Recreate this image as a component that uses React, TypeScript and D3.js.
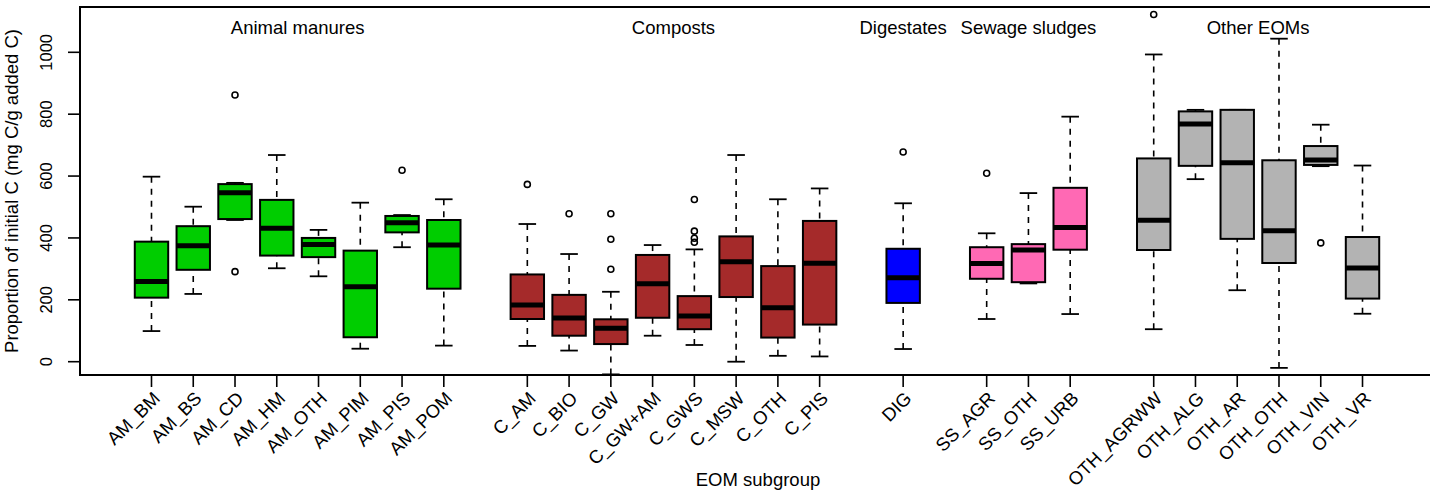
import React from "react";
import * as d3 from "d3";

// ---- Data ----
const groupNames = ["Animal manures", "Composts", "Digestates", "Sewage sludges", "Other EOMs"];
const groupColors = ["#00CD00", "#A52A2A", "#0000FF", "#FF69B4", "#B3B3B3"];

const categories = [
  "AM_BM", "AM_BS", "AM_CD", "AM_HM", "AM_OTH", "AM_PIM", "AM_PIS", "AM_POM",
  "C_AM", "C_BIO", "C_GW", "C_GW+AM", "C_GWS", "C_MSW", "C_OTH", "C_PIS",
  "DIG",
  "SS_AGR", "SS_OTH", "SS_URB",
  "OTH_AGRWW", "OTH_ALG", "OTH_AR", "OTH_OTH", "OTH_VIN", "OTH_VR",
];
const categoryGroup = [
  0, 0, 0, 0, 0, 0, 0, 0,
  1, 1, 1, 1, 1, 1, 1, 1,
  2,
  3, 3, 3,
  4, 4, 4, 4, 4, 4,
];

const lowerWhisker = [99, 219, 458, 302, 276, 42, 370, 52, 51, 36, -41, 84, 54, 0, 19, 17, 41, 138, 253, 154, 105, 590, 231, -20, 632, 155];
const q1 = [207, 297, 461, 343, 338, 79, 418, 236, 138, 84, 57, 142, 105, 209, 78, 120, 190, 268, 257, 362, 361, 633, 397, 319, 636, 204];
const median = [259, 375, 546, 431, 379, 242, 449, 377, 183, 141, 108, 252, 148, 323, 174, 318, 271, 317, 361, 434, 457, 768, 643, 423, 652, 303];
const q3 = [388, 438, 574, 523, 400, 359, 471, 458, 282, 216, 137, 345, 212, 405, 309, 455, 365, 370, 380, 562, 657, 809, 814, 651, 697, 403];
const upperWhisker = [598, 501, 578, 668, 426, 514, 474, 525, 445, 348, 226, 377, 363, 668, 525, 560, 512, 415, 545, 792, 993, 814, 814, 1044, 766, 634];
const outliers: number[][] = [
  [], [], [862, 291], [], [], [], [619], [],
  [573], [478], [478, 396, 299], [], [524, 422, 399, 386], [], [], [],
  [678],
  [609], [], [],
  [1122], [], [], [], [384], [],
];

const yTicks = [0, 200, 400, 600, 800, 1000];
const yLabel = "Proportion of initial C (mg C/g added C)";
const xLabel = "EOM subgroup";

// ---- Layout ----
const W = 1430;
const H = 492;
const FONT = "'Liberation Sans', Arial, Helvetica, sans-serif";

// positions: consecutive within group, one empty slot between groups
const positions: number[] = [];
{
  let p = 0;
  let prev = -1;
  categoryGroup.forEach((g) => {
    p += prev === -1 ? 1 : g === prev ? 1 : 2;
    positions.push(p);
    prev = g;
  });
}
const nPos = positions[positions.length - 1];
const ext = nPos * 0.04;

const x = d3.scaleLinear().domain([0.5 - ext, nPos + 0.5 + ext]).range([80.5, 1433.5]);
const y = d3.scaleLinear().domain([0, 1000]).range([361.7, 52.3]);

const plotTop = 7;
const plotBottom = 375;
const plotLeft = 80;

export default function App() {
  const unit = x(1) - x(0);
  const boxHalf = 0.4 * unit;
  const stapleHalf = 0.21 * unit;

  const groupCenters = groupNames.map((_, gi) => {
    const ps = positions.filter((_, i) => categoryGroup[i] === gi);
    return (d3.min(ps)! + d3.max(ps)!) / 2;
  });

  return (
    <svg
      width={W}
      height={H}
      style={{ position: "absolute", left: 0, top: 0, background: "#fff" }}
      fontFamily={FONT}
    >
      <rect x={0} y={0} width={W} height={H} fill="#fff" />
      {/* boxes */}
      {categories.map((c, i) => {
        const cx = x(positions[i]);
        const col = groupColors[categoryGroup[i]];
        return (
          <g key={c}>
            <line x1={cx} x2={cx} y1={y(upperWhisker[i])} y2={y(q3[i])} stroke="#000" strokeWidth={1.6} strokeDasharray="6,6" />
            <line x1={cx} x2={cx} y1={y(lowerWhisker[i])} y2={y(q1[i])} stroke="#000" strokeWidth={1.6} strokeDasharray="6,6" />
            <line x1={cx - stapleHalf} x2={cx + stapleHalf} y1={y(upperWhisker[i])} y2={y(upperWhisker[i])} stroke="#000" strokeWidth={1.8} />
            <line x1={cx - stapleHalf} x2={cx + stapleHalf} y1={y(lowerWhisker[i])} y2={y(lowerWhisker[i])} stroke="#000" strokeWidth={1.8} />
            <rect
              x={cx - boxHalf}
              y={y(q3[i])}
              width={boxHalf * 2}
              height={y(q1[i]) - y(q3[i])}
              fill={col}
              stroke="#000"
              strokeWidth={2}
            />
            <line x1={cx - boxHalf} x2={cx + boxHalf} y1={y(median[i])} y2={y(median[i])} stroke="#000" strokeWidth={5} />
            {outliers[i].map((o, k) => (
              <circle key={k} cx={cx} cy={y(o)} r={3} fill="none" stroke="#000" strokeWidth={1.6} />
            ))}
          </g>
        );
      })}

      {/* plot frame */}
      <rect x={plotLeft} y={plotTop} width={1440 - plotLeft} height={plotBottom - plotTop} fill="none" stroke="#000" strokeWidth={2} />

      {/* y axis */}
      <line x1={plotLeft} x2={plotLeft} y1={y(0)} y2={y(1000)} stroke="#000" strokeWidth={1.6} />
      {yTicks.map((t) => (
        <g key={t}>
          <line x1={plotLeft - 12} x2={plotLeft} y1={y(t)} y2={y(t)} stroke="#000" strokeWidth={1.6} />
          <text
            transform={`translate(52,${y(t)}) rotate(-90)`}
            textAnchor="middle"
            fontSize={16.5}
            fill="#000"
          >
            {t}
          </text>
        </g>
      ))}
      <text
        transform={`translate(17.5,${(plotTop + plotBottom) / 2}) rotate(-90)`}
        textAnchor="middle"
        fontSize={18.5}
        fill="#000"
      >
        {yLabel}
      </text>

      {/* x axis */}
      {categories.map((c, i) => {
        const cx = x(positions[i]);
        return (
          <g key={c}>
            <line x1={cx} x2={cx} y1={plotBottom} y2={plotBottom + 12} stroke="#000" strokeWidth={1.6} />
            <text
              transform={`translate(${cx + 5},${395}) rotate(-45)`}
              textAnchor="end"
              dy="0.35em"
              fontSize={18.5}
              fill="#000"
            >
              {c}
            </text>
          </g>
        );
      })}
      <text x={(x.range()[0] + x.range()[1]) / 2 + 1} y={486} textAnchor="middle" fontSize={18.5} fill="#000">
        {xLabel}
      </text>

      {/* group labels */}
      {groupNames.map((g, gi) => (
        <text key={g} x={x(groupCenters[gi])} y={33.5} textAnchor="middle" fontSize={18.5} fill="#000">
          {g}
        </text>
      ))}
    </svg>
  );
}
